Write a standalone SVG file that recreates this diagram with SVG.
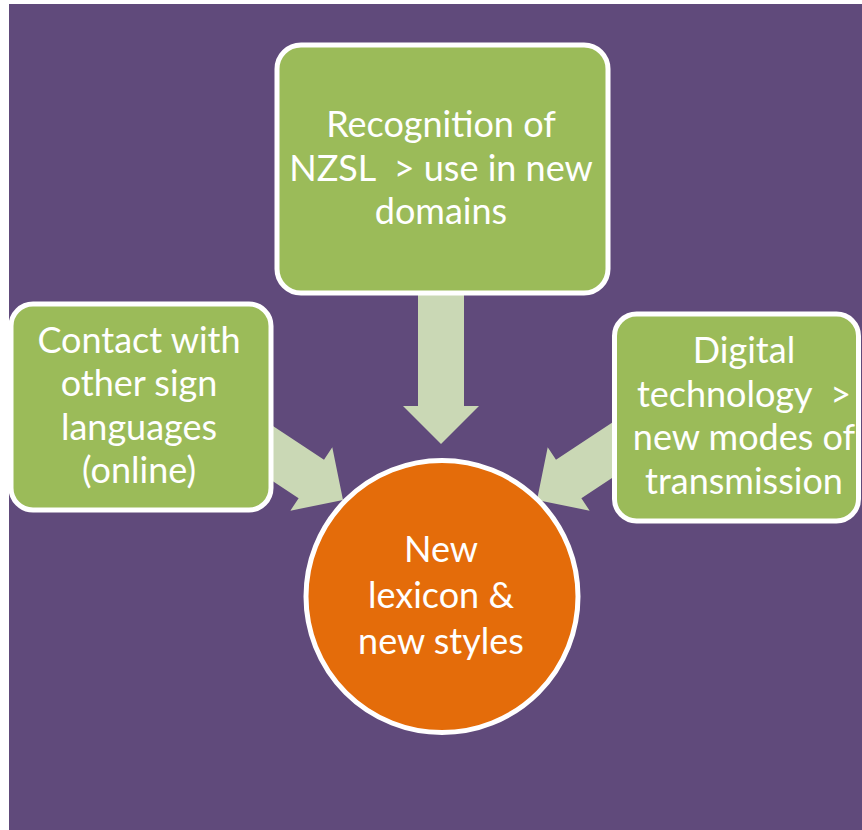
<svg xmlns="http://www.w3.org/2000/svg" width="862" height="830" viewBox="0 0 862 830">
<style>
.box{fill:#9BBB59;stroke:#FFFFFF;stroke-width:5}
.circ{fill:#E46C0A;stroke:#FFFFFF;stroke-width:5}
.arr{fill:#CAD8B5;stroke:none}
text{font-family:Lato,"Open Sans","Liberation Sans",sans-serif;font-size:36px;fill:#FFFFFF;text-anchor:middle;white-space:pre}
</style>
<defs>
<polygon id="arrow" class="arr" points="0,0 -38,-38 -38,-23 -150,-23 -150,23 -38,23 -38,38"/>
</defs>
<rect x="0" y="0" width="862" height="830" fill="#FFFFFF"/>
<rect x="9" y="4" width="853" height="826" fill="#604A7B"/>
<g id="connectors">
<use href="#arrow" transform="translate(441,444) rotate(90)"/>
<use href="#arrow" transform="translate(343,500) rotate(33.5)"/>
<use href="#arrow" transform="translate(537,500) rotate(146.5)"/>
</g>
<g id="node-top">
<rect class="box" x="277" y="45" width="331" height="248" rx="24"/>
<text x="441" y="137">Recognition of</text>
<text x="441" y="180.5" xml:space="preserve">NZSL  &gt; use in new</text>
<text x="441" y="224">domains</text>
</g>
<g id="node-left">
<rect class="box" x="11" y="304" width="260" height="206" rx="22"/>
<text x="139" y="353">Contact with</text>
<text x="139" y="396">other sign</text>
<text x="139" y="440">languages</text>
<text x="139" y="483">(online)</text>
</g>
<g id="node-right">
<rect class="box" x="614.5" y="314" width="244" height="207" rx="22"/>
<text x="744" y="363">Digital</text>
<text x="744" y="406.5" xml:space="preserve">technology  &gt;</text>
<text x="744" y="450">new modes of</text>
<text x="744" y="493.5">transmission</text>
</g>
<g id="node-center">
<circle class="circ" cx="442" cy="596.5" r="136"/>
<text x="441" y="562">New</text>
<text x="441" y="608">lexicon &amp;</text>
<text x="441" y="654">new styles</text>
</g>
</svg>
